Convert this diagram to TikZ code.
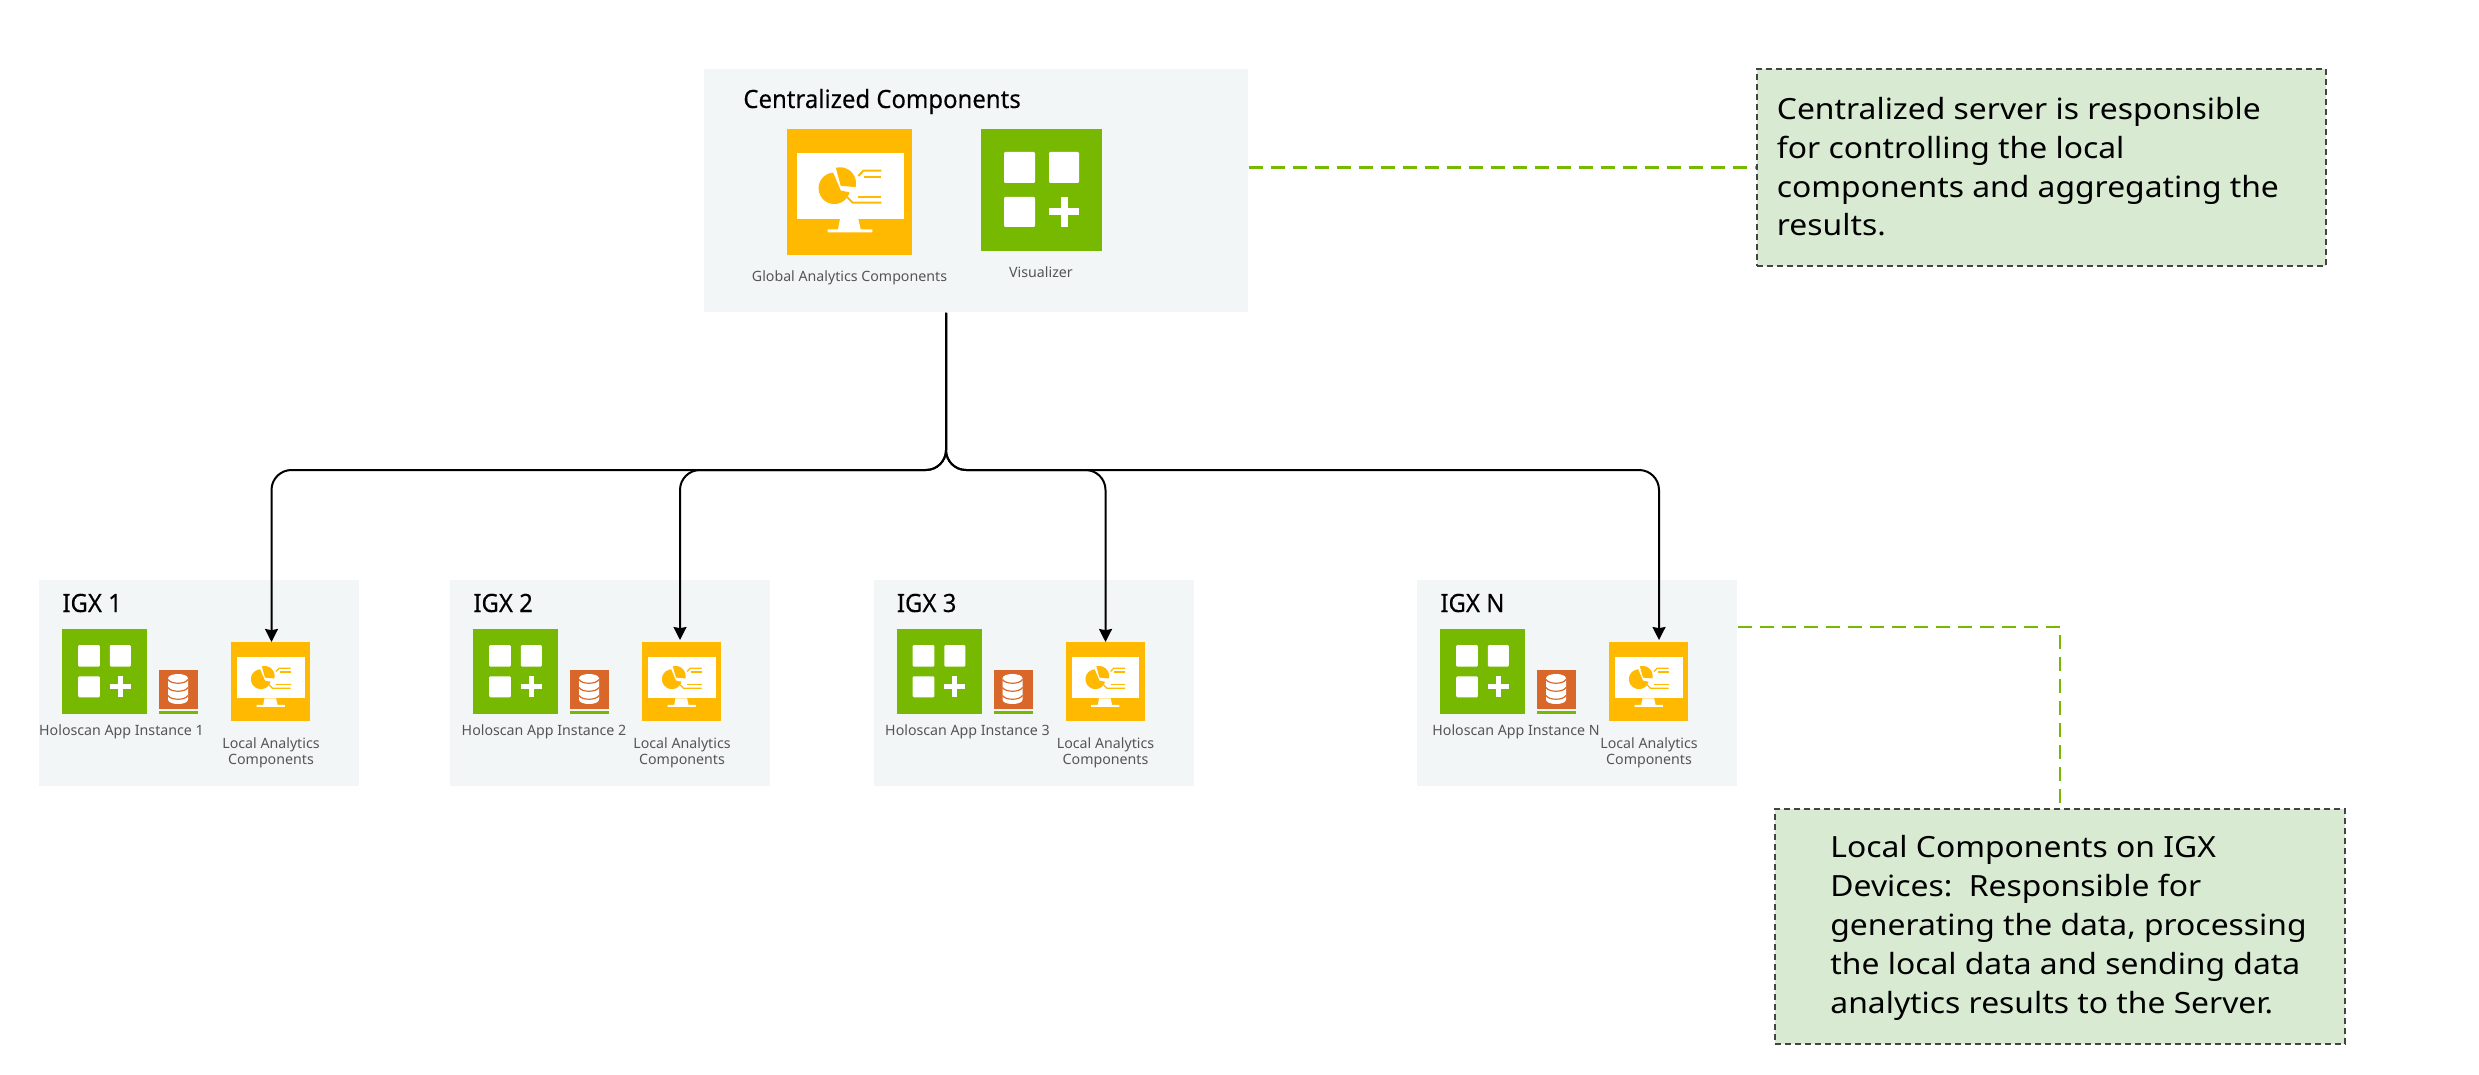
\documentclass[tikz,border=0pt]{standalone}
\usepackage{fontspec}
\setmainfont{Noto Sans}
\newfontfamily\headfont[FakeStretch=0.95,FakeBold=0.2]{Noto Sans}
\newfontfamily\notefont[FakeStretch=1.09]{Noto Sans}
\usetikzlibrary{arrows.meta}
\definecolor{nvgreen}{HTML}{76B900}
\definecolor{nvgold}{HTML}{FFB900}
\definecolor{dborange}{HTML}{D9672A}
\definecolor{panelbg}{HTML}{F3F6F7}
\definecolor{notebg}{HTML}{D9EAD3}
\definecolor{notebd}{HTML}{444444}
\definecolor{labelgray}{HTML}{555555}
\tikzset{
  panel/.style={anchor=north west,fill=panelbg,draw=none,inner sep=0pt},
  iconbox/.style={anchor=north west,draw=none,inner sep=0pt},
  heading/.style={anchor=base west,inner sep=0pt,font=\headfont\fontsize{12.6pt}{15pt}\selectfont,text=black},
  smalllabel/.style={inner sep=0pt,font=\fontsize{7.1pt}{8pt}\selectfont,text=labelgray,align=center},
  notebox/.style={anchor=north west,fill=notebg,draw=notebd,line width=1pt,dash pattern=on 3pt off 2pt,inner sep=0pt},
  notetext/.style={anchor=base west,inner sep=0pt,align=left,text=black,font=\notefont\fontsize{14.6pt}{19.4pt}\selectfont},
  conn/.style={draw=black,line width=1pt,rounded corners=10pt,-{Stealth[length=6.5pt,width=6.5pt,inset=0.6pt]}},
  callout/.style={draw=nvgreen,line width=1.4pt,dash pattern=on 7pt off 4pt},
}
% monitor icon, drawn in a 125 x 126 design grid
\newcommand\monitoricon[5]{%
  \node[iconbox,fill=nvgold,minimum width=#4*0.5pt,minimum height=#5*0.5pt] (#1) at (#2,#3) {};
  \pgfmathsetmacro\msx{#4/125}\pgfmathsetmacro\msy{#5/126}
  \begin{scope}[shift={(#2,#3)},xscale=\msx,yscale=\msy]
    \fill[white] (9.5,24) rectangle (117,90);
    \fill[white] (53,90) -- (71.3,90) -- (73.7,100.3) -- (85.3,100.3) -- (85.3,103.3) -- (40.7,103.3) -- (40.7,100.3) -- (51,100.3) -- cycle;
    \fill[nvgold] (53.7,61.5) -- plot[domain=266:15,samples=40] ({47.3+15.7*cos(\x)},{59.3+15.7*sin(\x)}) -- cycle;
    \fill[nvgold] (53.7,56.7) -- plot[domain=-105:14,samples=30] ({53+16*cos(\x)},{54.3+16*sin(\x)}) -- cycle;
    \draw[nvgold,line width=\msx pt] (71.3,47) -- (76.3,41.7) -- (94.3,41.7);
    \draw[nvgold,line width=\msx pt] (77,47.7) -- (94.3,47.7);
    \draw[nvgold,line width=\msx pt] (60.3,68.3) -- (65.7,73.7) -- (94.3,73.7);
    \draw[nvgold,line width=\msx pt] (71.3,68.3) -- (94.3,68.3);
  \end{scope}}
% grid icon, drawn in a 121 x 122 design grid
\newcommand\gridicon[5]{%
  \node[iconbox,fill=nvgreen,minimum width=#4*0.5pt,minimum height=#5*0.5pt] (#1) at (#2,#3) {};
  \pgfmathsetmacro\gsx{#4/121}\pgfmathsetmacro\gsy{#5/122}
  \begin{scope}[shift={(#2,#3)},xscale=\gsx,yscale=\gsy]
    \fill[white,rounded corners=0.6pt] (23,23) rectangle (54,54);
    \fill[white,rounded corners=0.6pt] (68,23) rectangle (98,54);
    \fill[white,rounded corners=0.6pt] (23,68) rectangle (54,98);
    \fill[white] (68,79.5) rectangle (98,86.5);
    \fill[white] (79.5,68) rectangle (86.5,98);
  \end{scope}}
% database icon, 39 x 44
\newcommand\dbicon[3]{%
  \node[iconbox,fill=dborange,minimum width=19.5pt,minimum height=19.5pt] (#1) at (#2,#3) {};
  \begin{scope}[shift={(#2,#3)}]
    \fill[nvgreen] (0,40.5) rectangle (39,44);
    \fill[white] (9,8.5) .. controls (9,2.5) and (29,2.5) .. (29,8.5) -- (29,29.5) .. controls (29,35.5) and (9,35.5) .. (9,29.5) -- cycle;
    \draw[dborange,line width=0.6pt] (9,9.5) .. controls (12,14.5) and (26,14.5) .. (29,9.5);
    \draw[dborange,line width=0.6pt] (9,17.5) .. controls (12,22.5) and (26,22.5) .. (29,17.5);
    \draw[dborange,line width=0.6pt] (9,25.5) .. controls (12,30.5) and (26,30.5) .. (29,25.5);
  \end{scope}}
% one IGX panel: #1 id, #2 left x, #3 title, #4 app label, #5 label centre offset
\newcommand\igxpanel[5]{%
  \node[panel,minimum width=160pt,minimum height=103pt] (box#1) at (#2,580) {};
  \node[heading] (title#1) at ({#2+23},612) {#3};
  \gridicon{app#1}{#2+23}{629}{85}{85}
  \dbicon{db#1}{#2+120}{670}
  \monitoricon{loc#1}{#2+192}{642}{79}{79}
  \node[smalllabel,anchor=base] (applabel#1) at ({#2+#5},735) {#4};
  \node[smalllabel,anchor=center] (loclabel#1) at ({#2+232},753) {Local Analytics\\Components};
}
\begin{document}
\begin{tikzpicture}[x=0.5pt,y=-0.5pt]
  \fill[white] (0,0) rectangle (2479,1075);
  \useasboundingbox (0,0) rectangle (2479,1075);

  % centralized panel
  \node[panel,minimum width=272pt,minimum height=121.5pt] (central) at (704,69) {};
  \node[heading] (centraltitle) at (743,108) {Centralized Components};
  \monitoricon{globalicon}{787}{129}{125}{126}
  \gridicon{vizicon}{981}{129}{121}{122}
  \node[smalllabel,anchor=base] (globallabel) at (849.5,282) {Global Analytics Components};
  \node[smalllabel,anchor=base] (vizlabel) at (1041,278) {Visualizer};

  % IGX panels
  \igxpanel{1}{39}{IGX 1}{Holoscan App Instance 1}{82.5}
  \igxpanel{2}{450}{IGX 2}{Holoscan App Instance 2}{94}
  \igxpanel{3}{873.5}{IGX 3}{Holoscan App Instance 3}{94}
  \igxpanel{N}{1417}{IGX N}{Holoscan App Instance N}{99}

  % notes
  \node[notebox,minimum width=284.5pt,minimum height=98.5pt] (note1) at (1756,68) {};
  \node[notetext] (note1text) at (1776.5,236) {Centralized server is responsible\\for controlling the local\\components and aggregating the\\results.};
  \node[notebox,minimum width=285pt,minimum height=117.5pt] (note2) at (1774,808) {};
  \node[notetext] (note2text) at (1830,1013) {Local Components on IGX\\Devices:\ \ Responsible for\\generating the data, processing\\the local data and sending data\\analytics results to the Server.};

  % connectors
  \coordinate (bus) at (946,470);
  \coordinate (ax1) at (271.5,470);
  \coordinate (ax2) at (680,470);
  \coordinate (ax3) at (1105.5,470);
  \coordinate (axN) at (1659,470);
  \draw[conn] (central.south -| bus) -- (bus) -- (ax1) -- (loc1.north -| ax1);
  \draw[conn,shorten >=1pt] (central.south -| bus) -- (bus) -- (ax2) -- (loc2.north -| ax2);
  \draw[conn] (central.south -| bus) -- (bus) -- (ax3) -- (loc3.north -| ax3);
  \draw[conn,shorten >=1pt] (central.south -| bus) -- (bus) -- (axN) -- (locN.north -| axN);

  % callouts
  \draw[callout] (central.east |- note1.west) -- (note1.west);
  \coordinate (elbow) at (2060,627);
  \draw[callout] (boxN.east |- elbow) -- (elbow) -- (note2.north -| elbow);
\end{tikzpicture}
\end{document}
